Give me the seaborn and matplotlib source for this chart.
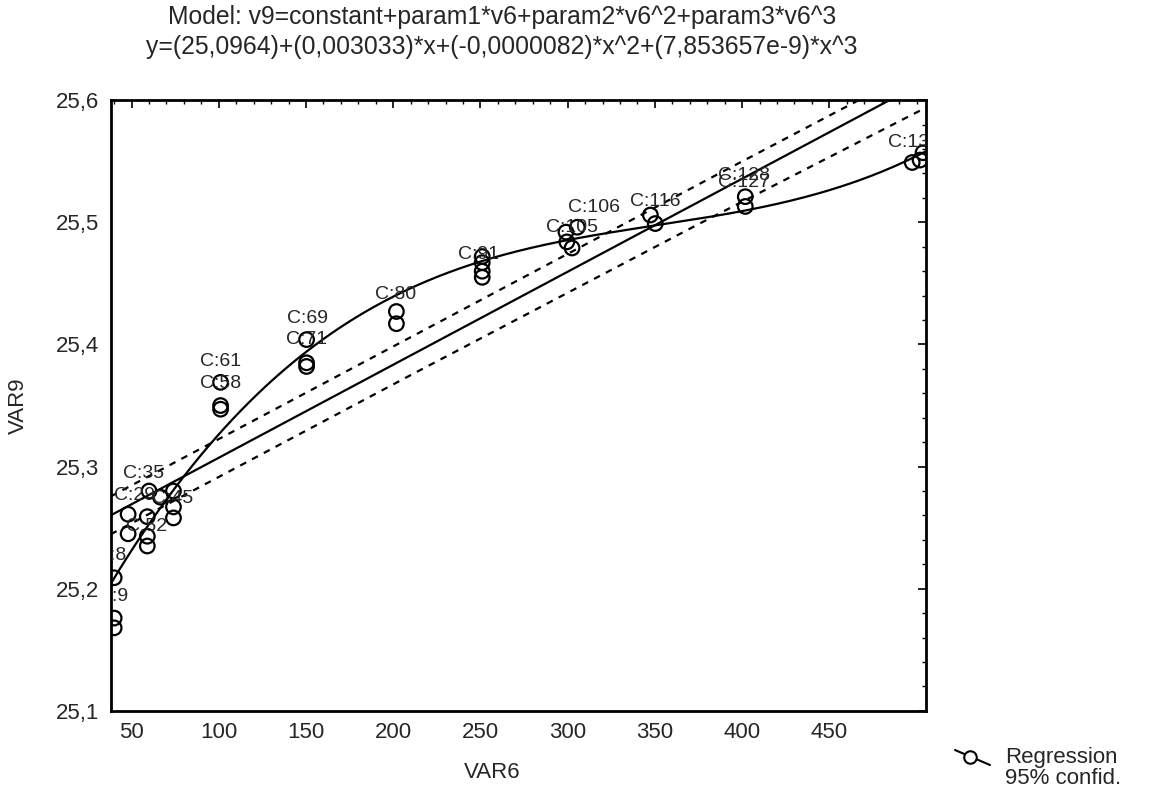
import numpy as np
import seaborn as sns
import matplotlib.pyplot as plt
from matplotlib.lines import Line2D
from matplotlib.ticker import MultipleLocator, FuncFormatter

var6 = [40, 40, 40, 48, 48, 60, 59, 59, 59, 66.5, 74, 74, 74,
        101, 101, 101, 150.3, 150.3, 150.3, 201.8, 201.8,
        251, 251, 251, 251, 299, 299.5, 302.5, 305.5, 347.4, 350.2,
        401.8, 401.8, 497.5, 502, 503.7]
var9 = [25.209, 25.176, 25.168, 25.261, 25.245, 25.280, 25.259, 25.243, 25.235,
        25.275, 25.280, 25.267, 25.258, 25.369, 25.350, 25.347,
        25.404, 25.385, 25.382, 25.427, 25.417,
        25.472, 25.467, 25.460, 25.455, 25.492, 25.484, 25.479, 25.496,
        25.506, 25.499, 25.521, 25.513, 25.549, 25.551, 25.557]

# case labels
case_text = ["C:35", "C:29", "C:45", "C:52", "C:8", "C:9", "C:61", "C:58", "C:69", "C:71",
             "C:80", "C:91", "C:105", "C:106", "C:116", "C:128", "C:127", "C:131"]
case_x = [57, 51.7, 73.5, 58.6, 38, 39.1, 101, 101, 150.9, 150.3,
          201.3, 248.8, 302.7, 315, 350.2, 401.2, 401.2, 498.6]
case_y = [25.294, 25.276, 25.274, 25.251, 25.227, 25.194, 25.386, 25.368, 25.421, 25.404,
          25.441, 25.474, 25.496, 25.512, 25.517, 25.538, 25.533, 25.565]

# distance of the upper / lower 95% lines from the regression line
conf_x = [38, 200, 370, 505.5]
conf_up = [0.0155, 0.015, 0.0145, 0.013]
conf_dn = [0.0155, 0.016, 0.018, 0.022]

x_lo, x_hi = 38, 505.5

sns.set_style("white")
plt.rcParams['font.family'] = ['Liberation Sans', 'DejaVu Sans']

fig = plt.figure(figsize=(11.65, 7.89), dpi=100)
ax = fig.add_axes([0.095, 0.099, 0.70, 0.774])

sns.scatterplot(x=var6, y=var9, ax=ax, marker='o', s=110, facecolor='none',
                edgecolor='black', linewidth=1.6, zorder=3)

grid = np.linspace(x_lo, x_hi, 300)
lin = np.polyfit(var6, var9, 1)
cub = np.polyfit(var6, var9, 3)
sns.lineplot(x=grid, y=np.polyval(lin, grid), ax=ax, color='black', lw=1.6)
sns.lineplot(x=grid, y=np.polyval(cub, grid), ax=ax, color='black', lw=1.6)

ax.plot(grid, np.polyval(lin, grid) + np.interp(grid, conf_x, conf_up),
        color='black', lw=1.6, ls=(0, (3, 3)))
ax.plot(grid, np.polyval(lin, grid) - np.interp(grid, conf_x, conf_dn),
        color='black', lw=1.6, ls=(0, (3, 3)))

for t, cx, cy in zip(case_text, case_x, case_y):
    ax.text(cx, cy, t, ha='center', va='center', fontsize=14, clip_on=True)

ax.set_xlim(x_lo, x_hi)
ax.set_ylim(25.1, 25.6)
ax.set_xticks(range(50, 500, 50))
ax.xaxis.set_minor_locator(MultipleLocator(10))
ax.yaxis.set_major_locator(MultipleLocator(0.1))
ax.yaxis.set_minor_locator(MultipleLocator(0.02))
ax.yaxis.set_major_formatter(FuncFormatter(lambda v, p: f"{v:.1f}".replace('.', ',')))
ax.tick_params(which='both', direction='in', top=True, right=True, labelsize=16, color='black')
ax.tick_params(which='major', length=6, width=1.2, pad=8)
ax.tick_params(which='minor', length=3, width=1.0)
for sp in ax.spines.values():
    sp.set_linewidth(2)
    sp.set_color('black')

ax.set_xlabel("VAR6", fontsize=16)
ax.set_ylabel("VAR9", fontsize=16)
ax.xaxis.set_label_coords(0.468, -0.083)
ax.yaxis.set_label_coords(-0.100, 0.5)

fig.text(0.431, 0.978, "Model: v9=constant+param1*v6+param2*v6^2+param3*v6^3",
         ha='center', va='center', fontsize=17.8)
fig.text(0.431, 0.94, "y=(25,0964)+(0,003033)*x+(-0,0000082)*x^2+(7,853657e-9)*x^3",
         ha='center', va='center', fontsize=17.8)

# legend
fig.add_artist(Line2D([955 / 1165, 990 / 1165], [1 - 750 / 789, 1 - 765 / 789],
                      color='black', lw=1.5))
fig.add_artist(Line2D([970 / 1165], [1 - 757 / 789], marker='o', ms=9, mfc='white',
                      mec='black', mew=1.5, lw=0))
fig.text(1005 / 1165, 1 - 758 / 789, "Regression", fontsize=16, va='center')
fig.text(1005 / 1165, 1 - 778 / 789, "95% confid.", fontsize=16, va='center')

fig.savefig("out.png", dpi=100)
